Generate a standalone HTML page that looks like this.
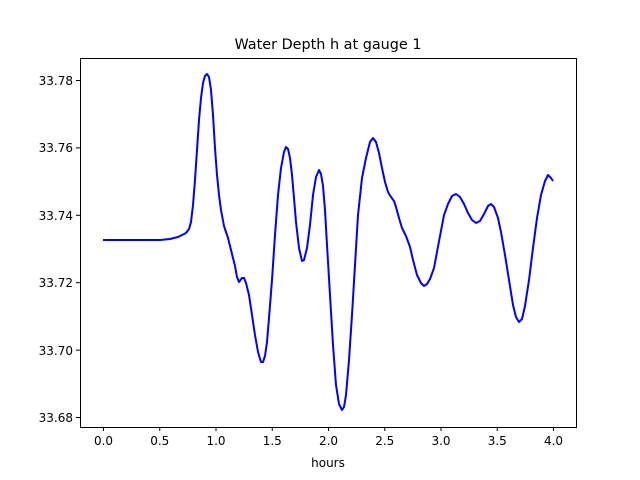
<!DOCTYPE html>
<html><head><style>body{margin:0;background:#fff}svg{display:block}text{font-family:"DejaVu Sans","Liberation Sans",sans-serif;font-size:12px;fill:#000}</style></head>
<body>
<svg width="640" height="480" viewBox="0 0 640 480">
<rect width="640" height="480" fill="#fff"/>
<text x="328" y="49" text-anchor="middle" style="font-size:14.4px">Water Depth h at gauge 1</text>
<polyline fill="none" stroke="#0000ff" stroke-width="2" stroke-linejoin="round" points="103,240 160,240 170,239 178,237 186,233 189,229 191,222 193,205 195,180 197,150 199,120 201,98 203,83 205,76 207,74 209,77 211,90 213,115 215,148 217,175 219,195 221,210 224,226 228,238 232,254 235,266 237,277 239,282 242,278 244,278 246,283 249,295 252,315 255,335 258,352 261,362 263,362 265,356 267,342 269,318 272,280 275,235 278,195 281,168 284,152 286,147 288,149 290,158 292,175 294,198 296,222 299,248 302,261 304,260 307,248 310,225 313,195 316,177 319,170 321,174 323,186 325,210 327,245 330,295 333,345 336,385 339,404 342,410 344,407 346,395 349,360 352,315 355,265 358,215 362,178 366,158 370,142 373,138 376,142 379,153 382,168 385,182 388,192 391,197 394,201 396,207 399,218 402,228 406,236 410,247 413,260 417,275 421,283 424,286 427,284 430,279 434,268 437,252 440,236 444,215 448,204 452,196 456,194 460,197 464,204 468,213 472,220 476,223 480,221 484,214 488,206 491,204 494,207 498,218 501,232 505,255 509,280 513,305 516,317 519,322 522,319 525,306 529,280 533,248 537,218 541,195 545,181 548,175 551,178 553,181"/>
<rect x="80.5" y="58.5" width="496" height="369" fill="none" stroke="#000" stroke-width="1"/>
<g stroke="#000" stroke-width="1">
<line x1="103.5" y1="427" x2="103.5" y2="431"/><line x1="159.75" y1="427" x2="159.75" y2="431"/><line x1="216" y1="427" x2="216" y2="431"/><line x1="272.25" y1="427" x2="272.25" y2="431"/><line x1="328.5" y1="427" x2="328.5" y2="431"/><line x1="384.75" y1="427" x2="384.75" y2="431"/><line x1="441" y1="427" x2="441" y2="431"/><line x1="497.25" y1="427" x2="497.25" y2="431"/><line x1="553.5" y1="427" x2="553.5" y2="431"/>
<line x1="76" y1="80.5" x2="80" y2="80.5"/><line x1="76" y1="147.9" x2="80" y2="147.9"/><line x1="76" y1="215.3" x2="80" y2="215.3"/><line x1="76" y1="282.7" x2="80" y2="282.7"/><line x1="76" y1="350.1" x2="80" y2="350.1"/><line x1="76" y1="417.5" x2="80" y2="417.5"/>
</g>
<g text-anchor="middle">
<text x="103.5" y="445">0.0</text><text x="159.75" y="445">0.5</text><text x="216" y="445">1.0</text><text x="272.25" y="445">1.5</text><text x="328.5" y="445">2.0</text><text x="384.75" y="445">2.5</text><text x="441" y="445">3.0</text><text x="497.25" y="445">3.5</text><text x="553.5" y="445">4.0</text>
<text x="328" y="467">hours</text>
</g>
<g text-anchor="end">
<text x="73" y="85">33.78</text><text x="73" y="152">33.76</text><text x="73" y="220">33.74</text><text x="73" y="287">33.72</text><text x="73" y="355">33.70</text><text x="73" y="422">33.68</text>
</g>
</svg>
</body></html>
